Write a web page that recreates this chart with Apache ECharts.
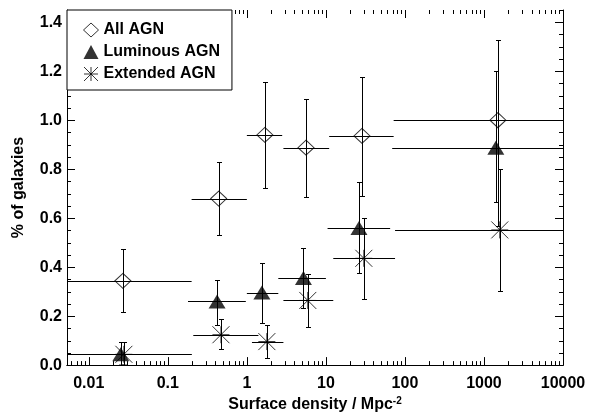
<!DOCTYPE html>
<html>
<head>
<meta charset="utf-8">
<script src="https://cdn.jsdelivr.net/npm/echarts@6/dist/echarts.min.js"></script>
<style>
html,body{margin:0;padding:0;background:#fff;}
#c{width:592px;height:419px;}
</style>
</head>
<body>
<div id="c"></div>
<script>
// ---- Data ----
var allX   = [0.027, 0.44, 1.69, 5.6, 28.6, 1500];
var allY   = [0.344, 0.68, 0.94, 0.888, 0.936, 1.0];
var allYlo = [0.216, 0.532, 0.724, 0.688, 0.692, 0.57];
var allYhi = [0.476, 0.828, 1.156, 1.088, 1.176, 1.328];
var allXlo = [0.001, 0.2, 1.0, 2.9, 11, 72];
var allXhi = [0.2, 1.0, 2.8, 11, 72, 10000];

var lumX   = [0.0254, 0.42, 1.55, 5.2, 26.2, 1413];
var lumY   = [0.044, 0.26, 0.296, 0.356, 0.56, 0.888];
var lumYlo = [0, 0.164, 0.172, 0.232, 0.376, 0.664];
var lumYhi = [0.096, 0.348, 0.416, 0.48, 0.748, 1.2];
var lumXlo = [0.001, 0.18, 1.0, 2.5, 10.5, 69];
var lumXhi = [0.2, 0.97, 2.5, 10, 65, 10000];

var extX   = [0.0278, 0.47, 1.79, 5.9, 30.2, 1585];
var extY   = [0.044, 0.124, 0.096, 0.264, 0.436, 0.552];
var extYlo = [0, 0.064, 0.028, 0.156, 0.268, 0.304];
var extYhi = [0.096, 0.188, 0.164, 0.372, 0.6, 0.8];
var extXlo = [0.001, 0.21, 1.16, 2.9, 12.4, 75];
var extXhi = [0.2, 1.4, 2.9, 12.4, 75, 10000];

var seriesNames = ['All AGN', 'Luminous AGN', 'Extended AGN'];

// ---- Axis ticks ----
var xMajorTicks = [0.01, 0.1, 1, 10, 100, 1000, 10000];
var xMinorTicks = [];
[0.001, 0.01, 0.1, 1, 10, 100, 1000].forEach(function (d) {
  [2,3,4,5,6,7,8,9].forEach(function (m) { xMinorTicks.push(+(m * d).toPrecision(3)); });
});
var yMajorTicks = [0, 0.2, 0.4, 0.6, 0.8, 1.0, 1.2, 1.4];
var yMinorTicks = [];
for (var i = 1; i <= 29; i++) { if (i % 4) yMinorTicks.push(+(i * 0.05).toFixed(2)); }

var X_MIN = 0.0053, X_MAX = 10000, Y_MIN = 0, Y_MAX = 1.45;
var FONT = "'Liberation Sans', Arial, Helvetica, sans-serif";

function rows(x, y, xlo, xhi, ylo, yhi) {
  return x.map(function (v, i) { return [v, y[i], xlo[i], xhi[i], ylo[i], yhi[i]]; });
}
function pts(x, y) { return x.map(function (v, i) { return [v, y[i]]; }); }

// tick items: [xValue, yValue, kind]  kind 0/1 = x major/minor, 2/3 = y major/minor
var tickItems = [];
xMajorTicks.forEach(function (v) { tickItems.push([v, 0.5, 0]); });
xMinorTicks.forEach(function (v) { if (v > X_MIN && v < X_MAX) tickItems.push([v, 0.5, 1]); });
yMajorTicks.forEach(function (v) { tickItems.push([1, v, 2]); });
yMinorTicks.forEach(function (v) { tickItems.push([1, v, 3]); });

function tickRender(params, api) {
  var cs = params.coordSys;
  var kind = api.value(2);
  var st = { stroke: '#000', lineWidth: 1 };
  var len = (kind === 0 || kind === 2) ? 8 : 4;
  var L = cs.x, R = cs.x + cs.width, T = cs.y, B = cs.y + cs.height;
  if (kind < 2) {
    var px = Math.round(api.coord([api.value(0), 0.5])[0]) + 0.5;
    return { type: 'group', children: [
      { type: 'line', shape: { x1: px, y1: B, x2: px, y2: B - len }, style: st },
      { type: 'line', shape: { x1: px, y1: T, x2: px, y2: T + len }, style: st }
    ]};
  } else {
    var py = Math.round(api.coord([1, api.value(1)])[1]) + 0.5;
    return { type: 'group', children: [
      { type: 'line', shape: { x1: L, y1: py, x2: L + len, y2: py }, style: st },
      { type: 'line', shape: { x1: R, y1: py, x2: R - len, y2: py }, style: st }
    ]};
  }
}

function errRender(params, api) {
  var cs = params.coordSys;
  var x = api.value(0), y = api.value(1);
  var xlo = api.value(2), xhi = api.value(3), ylo = api.value(4), yhi = api.value(5);
  var pl = api.coord([xlo, y]), pr = api.coord([xhi, y]);
  var pt = api.coord([x, yhi]), pb = api.coord([x, ylo]);
  var left = Math.max(pl[0], cs.x), right = Math.min(pr[0], cs.x + cs.width);
  var yy = Math.round(pl[1]) + 0.5;
  var xx = Math.round(pt[0]) + 0.5;
  var top = Math.round(pt[1]) + 0.5, bot = Math.min(Math.round(pb[1]) + 0.5, cs.y + cs.height);
  var st = { stroke: '#000', lineWidth: 1 };
  var cw = 2.5;
  return {
    type: 'group',
    children: [
      { type: 'line', shape: { x1: left, y1: yy, x2: right, y2: yy }, style: st },
      { type: 'line', shape: { x1: xx, y1: top, x2: xx, y2: bot }, style: st },
      { type: 'line', shape: { x1: xx - cw, y1: top, x2: xx + cw, y2: top }, style: st },
      { type: 'line', shape: { x1: xx - cw, y1: bot, x2: xx + cw, y2: bot }, style: st }
    ]
  };
}

var ASTER = 'path://M0,-1L0,1M-1,0L1,0M-1,-1L1,1M-1,1L1,-1';
var hollow = { color: 'rgba(0,0,0,0)', borderColor: '#000', borderWidth: 1 };

function xAxisDef(pos, showLabel) {
  return {
    type: 'log', position: pos, min: X_MIN, max: X_MAX, gridIndex: 0,
    axisLine: { show: true, lineStyle: { color: '#000', width: 1 } },
    axisTick: { show: false },
    axisLabel: showLabel ? {
      show: true, customValues: xMajorTicks, margin: 10, color: '#000',
      fontFamily: FONT, fontWeight: 'bold', fontSize: 16,
      formatter: function (v) { return String(+(+v).toPrecision(2)); }
    } : { show: false },
    splitLine: { show: false }, minorTick: { show: false }
  };
}
function yAxisDef(pos, showLabel) {
  return {
    type: 'value', position: pos, min: Y_MIN, max: Y_MAX, gridIndex: 0,
    axisLine: { show: true, lineStyle: { color: '#000', width: 1 } },
    axisTick: { show: false },
    axisLabel: showLabel ? {
      show: true, customValues: yMajorTicks, margin: 5, color: '#000',
      fontFamily: FONT, fontWeight: 'bold', fontSize: 16,
      formatter: function (v) { return (+v).toFixed(1); }
    } : { show: false },
    splitLine: { show: false }, minorTick: { show: false }
  };
}

var xAxes = [xAxisDef('bottom', true), xAxisDef('top', false)];
xAxes[0].name = 'Surface density / Mpc{s|-2}';
xAxes[0].nameLocation = 'middle';
xAxes[0].nameGap = 29;
xAxes[0].nameTextStyle = {
  color: '#000', fontFamily: FONT, fontWeight: 'bold', fontSize: 16, lineHeight: 18,
  rich: { s: { color: '#000', fontFamily: FONT, fontWeight: 'bold', fontSize: 10, lineHeight: 10, verticalAlign: 'top' } }
};

var yAxes = [yAxisDef('left', true), yAxisDef('right', false)];
yAxes[0].name = '% of galaxies';
yAxes[0].nameLocation = 'middle';
yAxes[0].nameGap = 40;
yAxes[0].nameTextStyle = { color: '#000', fontFamily: FONT, fontWeight: 'bold', fontSize: 16 };

var chart = echarts.init(document.getElementById('c'), null, { renderer: 'canvas' });
chart.setOption({
  backgroundColor: '#fff',
  animation: false,
  grid: { left: 67, right: 29, top: 10, bottom: 46, containLabel: false },
  xAxis: xAxes,
  yAxis: yAxes,
  legend: {
    orient: 'vertical', left: 67, top: 10, z: 10,
    backgroundColor: '#fff', borderColor: '#000', borderWidth: 1, borderRadius: 0,
    padding: [12, 12, 8, 16], itemGap: 6, itemWidth: 15, itemHeight: 14,
    textStyle: { color: '#000', fontFamily: FONT, fontWeight: 'bold', fontSize: 16 },
    data: [
      { name: seriesNames[0], icon: 'diamond', itemStyle: hollow },
      { name: seriesNames[1], icon: 'triangle', itemStyle: { color: '#000', borderWidth: 0 } },
      { name: seriesNames[2], icon: ASTER, itemStyle: hollow }
    ]
  },
  series: [
    { type: 'custom', renderItem: tickRender, data: tickItems, encode: { x: 0, y: 1 }, silent: true, z: 1 },
    { type: 'custom', renderItem: errRender, data: rows(allX, allY, allXlo, allXhi, allYlo, allYhi), encode: { x: 0, y: 1 }, silent: true, z: 2 },
    { type: 'custom', renderItem: errRender, data: rows(lumX, lumY, lumXlo, lumXhi, lumYlo, lumYhi), encode: { x: 0, y: 1 }, silent: true, z: 2 },
    { type: 'custom', renderItem: errRender, data: rows(extX, extY, extXlo, extXhi, extYlo, extYhi), encode: { x: 0, y: 1 }, silent: true, z: 2 },
    { name: seriesNames[0], type: 'scatter', symbol: 'diamond', symbolSize: [16, 15], itemStyle: hollow, data: pts(allX, allY), z: 3 },
    { name: seriesNames[1], type: 'scatter', symbol: 'triangle', symbolSize: [17, 14], itemStyle: { color: '#000' }, data: pts(lumX, lumY), z: 3 },
    { name: seriesNames[2], type: 'scatter', symbol: ASTER, symbolSize: [17, 17], itemStyle: hollow, data: pts(extX, extY), z: 3 }
  ]
});
</script>
</body>
</html>
